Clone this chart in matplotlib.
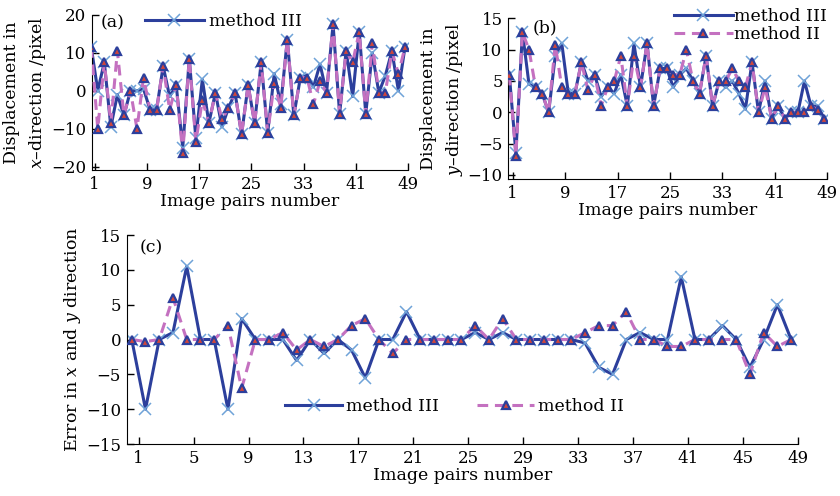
import numpy as np
import matplotlib
matplotlib.use("Agg")
import matplotlib.pyplot as plt

plt.rcParams["font.family"] = "DejaVu Serif"
plt.rcParams["mathtext.fontset"] = "dejavuserif"
plt.rcParams["font.size"] = 12

# image pair index, 49 pairs
pairs = np.arange(1, 50)

# (a) displacement in x direction
dx_m3 = [11.5, 0, 7.5, -9.5, -1, -6.5, 0, 0, 0.5, -5, -5, 6.5, -1.5, 1.5, -15, 8.5,
         -12.5, 3, -8.5, -0.5, -9.5, -4.5, -0.5, -11.5, 1.5, -8.5, 7.5, -11, 4.5, -3.5,
         13.5, -6.5, 3.5, 4, 1, 7, -0.5, 17.5, -6, 10.5, -1.5, 15.5, -6, 10, -0.5, 4,
         10.5, 0, 11.5]
dx_m2 = [11.5, -10, 7.5, -8.5, 10.5, -6.5, 0, -10, 3.5, -5, -5, 6.5, -5, 1.5, -16.5, 8.5,
         -13.5, -2.5, -8.5, -0.5, -7.5, -4.5, -0.5, -11.5, 1.5, -8.5, 7.5, -11, 2, -4.5,
         13.5, -6.5, 3.5, 3.5, -3.5, 2.5, -0.5, 17.5, -6, 10.5, 7.5, 15.5, -6, 12.5, -0.5, -0.5,
         10.5, 4.5, 11.5]

# (b) displacement in y direction
dy_m3 = [6, -6.5, 12.8, 4.5, 4, 3, 0, 9, 11, 3, 3, 8, 5, 6, 2.5, 4, 3, 6, 1, 11,
         4, 11, 1, 7, 7, 4, 6, 7, 5, 3, 9, 1, 5, 4, 5, 3, 0.5, 8, 0, 5,
         -1, 1, -1, 0, 0, 5, 1, 1, -1]
dy_m2 = [6, -7, 12.8, 10, 4, 3, 0, 10.8, 4, 3, 3, 8, 3.5, 6, 1, 4, 5, 9, 1, 9,
         4, 11, 1, 7, 7, 6, 6, 10, 5, 3, 9, 1, 5, 5, 7, 5, 4, 8, 0, 4,
         -1, 1, -1, 0, 0, 0, 1, 0.4, -1]

# (c) error in x and y direction
err_m3 = [0, -10, 0, 1, 10.5, 0, 0, -10, 3, 0, 0, 0, -3, 0, -2, 0, -1.5, -5.5, 0, 0,
          4, 0, 0, 0, 0, 1, 0, 1, 0, 0, 0, 0, 0, -0.5, -4, -5, 0, 1, 0, 0,
          9, 0, 0, 2, 0, -4, 0, 5, 0]
err_m2 = [0, -0.3, 0, 6, 0, 0, 0, 2, -7, 0, 0, 1, -1.5, 0, -1, 0, 2, 3, 0, -2,
          0, 0, 0, 0, 0, 2, 0, 3, 0, 0, 0, 0, 0, 1, 2, 2, 4, 0, 0, -1,
          -1, 0, 0, 0, 0, -5, 1, -1, 0]

blue = "#2c3f9c"
xblue = "#6fa3d8"
pink = "#c471c0"
style3 = dict(color=blue, lw=2.2, marker="x", ms=8, mew=1.1,
              mec=xblue, label="method III", zorder=2)
style2 = dict(color=pink, lw=2.2, ls=(0, (3.5, 2.2)), marker="^", ms=5.5, mew=1.6,
              mfc="#d2463a", mec=blue, label="method II", zorder=3)

fig = plt.figure(figsize=(8.4, 4.96), dpi=100)
ax_a = fig.add_axes([0.109, 0.657, 0.377, 0.313])
ax_b = fig.add_axes([0.605, 0.6385, 0.38, 0.3245])
ax_c = fig.add_axes([0.1508, 0.1048, 0.7992, 0.4214])

xpos = pairs - 0.5


def setup(ax, xticks, ylim, yticks, xlim):
    for s in ("top", "right"):
        ax.spines[s].set_visible(False)
    ax.set_xlim(*xlim)
    ax.set_ylim(*ylim)
    ax.set_xticks(xticks)
    ax.set_yticks(yticks)
    ax.tick_params(direction="in", length=5, width=1, labelsize=12, pad=4)
    ax.set_xlabel("Image pairs number", fontsize=12.5, labelpad=0)


ax_a.plot(xpos, dx_m3, **style3)
ax_a.plot(xpos, dx_m2, **style2)
setup(ax_a, np.arange(1, 50, 8), (-20.9, 20), [-20, -10, 0, 10, 20], (0.55, 49))
ax_a.set_ylabel("Displacement in\n$x$–direction /pixel", fontsize=12.5,
                linespacing=1.45, labelpad=2)
ax_a.text(0.03, 0.95, "(a)", transform=ax_a.transAxes, fontsize=12.5, va="center")
h3, = ax_a.get_lines()[:1]
ax_a.legend(handles=[h3], loc="center left", bbox_to_anchor=(0.168, 0.955),
            frameon=False, borderpad=0, borderaxespad=0, handlelength=3.4,
            handletextpad=0.3, fontsize=12.5)

ax_b.plot(xpos, dy_m3, **style3)
ax_b.plot(xpos, dy_m2, **style2)
setup(ax_b, np.arange(1, 50, 8), (-10.7, 15), [-10, -5, 0, 5, 10, 15], (0.33, 49))
ax_b.set_ylabel("Displacement in\n$y$–direction /pixel", fontsize=12.5,
                linespacing=1.45, labelpad=2)
ax_b.text(0.075, 0.94, "(b)", transform=ax_b.transAxes, fontsize=12.5, va="center")
ax_b.legend(loc="center right", bbox_to_anchor=(1.0, 0.955), frameon=False,
            borderpad=0, borderaxespad=0, handlelength=3.4, handletextpad=0.1,
            labelspacing=0.1, fontsize=12.5)

ax_c.plot(xpos, err_m3, **style3)
ax_c.plot(xpos, err_m2, **style2)
setup(ax_c, np.arange(1, 50, 4), (-15, 15), np.arange(-15, 16, 5), (0.13, 49))
ax_c.set_ylabel("Error in $x$ and $y$ direction", fontsize=12.5, labelpad=2)
ax_c.text(0.02, 0.94, "(c)", transform=ax_c.transAxes, fontsize=12.5, va="center")
ax_c.legend(loc="center left", bbox_to_anchor=(0.236, 0.18), ncol=2, frameon=False,
            borderpad=0, borderaxespad=0, handlelength=3.3, handletextpad=0.2,
            columnspacing=2.2, fontsize=12.5)

fig.savefig("out.png", dpi=100)
